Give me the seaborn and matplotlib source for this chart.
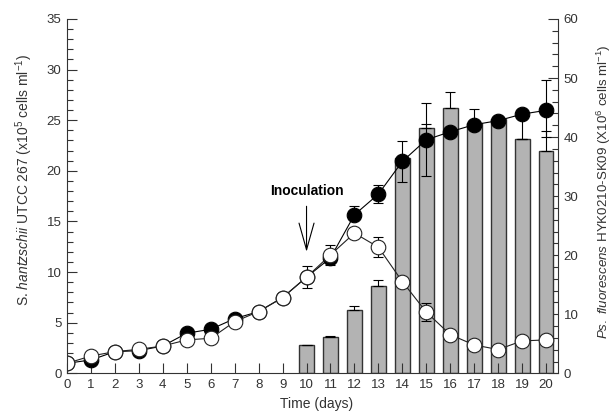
import numpy as np
import pandas as pd
import matplotlib
matplotlib.use("Agg")
import matplotlib.pyplot as plt
from matplotlib.ticker import MultipleLocator
import seaborn as sns

# ---------------- data ----------------
days = list(range(21))
# S. hantzschii, co-culture (filled) and control (open), x10^5 cells/ml
filled_mean = [0.99, 1.32, 2.14, 2.24, 2.70, 3.96, 4.35, 5.40, 6.10, 7.48, 9.50,
               11.40, 15.66, 17.70, 20.93, 23.07, 23.86, 24.56, 24.96, 25.60, 25.98]
filled_err_lo = [0]*12 + [0.0, 0.9, 2.0, 3.6, 0.0, 0.0, 0.0, 2.5, 2.6]
filled_err_hi = [0]*12 + [0.9, 0.9, 2.0, 3.6, 0.0, 1.55, 0.0, 0.0, 3.0]
open_mean = [0.99, 1.71, 2.14, 2.37, 2.70, 3.30, 3.46, 5.10, 6.10, 7.48, 9.50,
             11.70, 13.85, 12.46, 9.06, 6.05, 3.82, 2.80, 2.35, 3.20, 3.30]
open_err = [0]*10 + [1.1, 1.0, 0.0, 1.0, 0.0, 0.85, 0, 0, 0, 0, 0]
# Ps. fluorescens bars, x10^6 cells/ml
bar_days = list(range(10, 21))
bar_vals = [4.8, 6.1, 10.7, 14.8, 36.5, 41.5, 45.0, 42.4, 43.1, 39.7, 37.7]
bar_err = [0.0, 0.2, 0.7, 1.0, 0.0, 0.75, 2.7, 0.0, 0.0, 0.0, 3.4]

# ---------------- style ----------------
sns.set_theme(style="ticks")
plt.rcParams["font.family"] = ["Liberation Sans", "DejaVu Sans"]
plt.rcParams["mathtext.fontset"] = "custom"
plt.rcParams["mathtext.rm"] = "Liberation Sans"
plt.rcParams["mathtext.it"] = "Liberation Sans:italic"
plt.rcParams["mathtext.bf"] = "Liberation Sans:bold"

dark = "#333333"
fig = plt.figure(figsize=(6.12, 4.13), dpi=100)
ax = fig.add_axes([0.1095, 0.0961, 0.8023, 0.8579])
ax2 = ax.twinx()

# bars on right axis
sns.barplot(x=bar_days, y=bar_vals, native_scale=True, width=0.62,
            color="#b3b3b3", saturation=1, edgecolor=dark, linewidth=1.0,
            errorbar=None, ax=ax2)
ax2.errorbar(bar_days, bar_vals, yerr=[np.zeros(len(bar_err)), bar_err],
             fmt="none", ecolor="black", elinewidth=0.8, capsize=3.8, capthick=0.8)

# lines on left axis
ax.errorbar(days, filled_mean, yerr=[filled_err_lo, filled_err_hi], fmt="none",
            ecolor="black", elinewidth=0.8, capsize=3.8, capthick=0.8)
sns.lineplot(x=days, y=filled_mean, ax=ax, color="black", lw=0.8, marker="o",
             markersize=10.5, markerfacecolor="black", markeredgecolor="black",
             markeredgewidth=0.8)
ax.errorbar(days, open_mean, yerr=open_err, fmt="none",
            ecolor="black", elinewidth=0.8, capsize=3.8, capthick=0.8)
sns.lineplot(x=days, y=open_mean, ax=ax, color="#222222", lw=0.8, marker="o",
             markersize=10.5, markerfacecolor="white", markeredgecolor="#222222",
             markeredgewidth=0.8)

ax.set_zorder(ax2.get_zorder() + 1)
ax.patch.set_visible(False)

# axes limits/ticks
ax.set_xlim(0, 20.5)
ax.set_ylim(0, 35)
ax2.set_ylim(0, 60)
ax.set_xticks(days)
ax.set_xticklabels([str(d) for d in days])
ax.yaxis.set_major_locator(MultipleLocator(5))
ax.yaxis.set_minor_locator(MultipleLocator(1))
ax2.yaxis.set_major_locator(MultipleLocator(10))
ax2.yaxis.set_minor_locator(MultipleLocator(2))

for a in (ax, ax2):
    a.tick_params(which="major", direction="in", length=7, width=0.8, color=dark,
                  labelsize=9.5, labelcolor=dark, pad=4)
    a.tick_params(which="minor", direction="in", length=4, width=0.8, color=dark)
    a.spines["top"].set_visible(False)
    for s in a.spines.values():
        s.set_color(dark)
        s.set_linewidth(0.8)
ax.spines["right"].set_visible(False)
ax2.spines["left"].set_visible(False)
ax2.spines["bottom"].set_visible(False)
ax2.tick_params(axis="x", which="both", bottom=False, labelbottom=False)

ax.set_xlabel("Time (days)", fontsize=10, color=dark)
ax.xaxis.set_label_coords(0.509, -0.067)
ax.set_ylabel(r"S. $\mathit{hantzschii}$ UTCC 267 (x10$^5$ cells ml$^{-1}$)",
              fontsize=10, color=dark)
ax.yaxis.set_label_coords(-0.065, 0.546)
ax2.set_ylabel(r"$\mathit{Ps.\ fluorescens}$ HYK0210-SK09 (X10$^6$ cells ml$^{-1}$)",
               fontsize=9.6, color=dark)
ax2.yaxis.set_label_coords(1.074, 0.512)

# inoculation annotation
ax.text(10, 18.0, "Inoculation", ha="center", va="center", fontsize=10,
        fontweight="bold", color="black")
ax.annotate("", xy=(10, 12.0), xytext=(10, 16.5),
            arrowprops=dict(arrowstyle="->,head_length=1.6,head_width=0.45",
                            color="black", lw=0.8, shrinkA=0, shrinkB=0))

fig.savefig("out.png", dpi=100)
